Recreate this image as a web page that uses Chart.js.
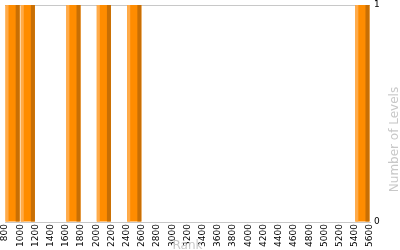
<!DOCTYPE html>
<html>
<head>
<meta charset="utf-8">
<script src="https://cdn.jsdelivr.net/npm/chart.js@4.4.1/dist/chart.umd.min.js"></script>
<style>
  html, body { margin: 0; padding: 0; background: #fff; }
  #wrap { width: 400px; height: 250px; }
</style>
</head>
<body>
<div id="wrap"><canvas id="chart" width="400" height="250"></canvas></div>
<script>
// rank bins (bin centre) and how many levels fall in each
const rankBins = [900, 1100, 1300, 1500, 1700, 1900, 2100, 2300, 2500, 2700, 2900, 3100,
  3300, 3500, 3700, 3900, 4100, 4300, 4500, 4700, 4900, 5100, 5300, 5500];
const levelCounts = [1, 1, 0, 0, 1, 0, 1, 0, 1, 0, 0, 0,
  0, 0, 0, 0, 0, 0, 0, 0, 0, 0, 0, 1];
const rankMin = 800;
const rankMax = 5600;
const rankStep = 200;
const countTicks = [0, 1];

const xTitle = "Rank";
const yTitle = "Number of Levels";

const FONT = "'DejaVu Sans', Verdana, sans-serif";

// light left edge + dark right edge on each bar
const barShade = {
  id: "barShade",
  afterDatasetsDraw(chart) {
    const ctx = chart.ctx;
    const meta = chart.getDatasetMeta(0);
    ctx.save();
    meta.data.forEach((bar, i) => {
      if (!levelCounts[i]) return;
      const { x, y, base, width } = bar.getProps(["x", "y", "base", "width"], true);
      const left = x - width / 2;
      ctx.fillStyle = "#ffab4a";
      ctx.fillRect(left, y, 3, base - y);
      ctx.fillStyle = "#c86f05";
      ctx.fillRect(left + width - 4, y, 4, base - y);
    });
    ctx.restore();
  },
};

// axis titles, light grey like the original
const axisTitles = {
  id: "axisTitles",
  afterDraw(chart) {
    const ctx = chart.ctx;
    const a = chart.chartArea;
    ctx.save();
    ctx.fillStyle = "#c8c8c8";
    ctx.font = `12px ${FONT}`;
    ctx.textAlign = "center";
    ctx.textBaseline = "alphabetic";
    ctx.fillText(xTitle, (a.left + a.right) / 2, chart.height - 1);
    ctx.translate(chart.width - 5, (a.top + a.bottom) / 2 + 26);
    ctx.rotate(-Math.PI / 2);
    ctx.textBaseline = "middle";
    ctx.fillText(yTitle, 0, 0);
    ctx.restore();
  },
};

new Chart(document.getElementById("chart"), {
  type: "bar",
  data: {
    labels: rankBins,
    datasets: [{
      data: rankBins.map((r, i) => ({ x: r, y: levelCounts[i] })),
      backgroundColor: "#ff8c00",
      borderWidth: 0,
      barPercentage: 0.93,
      categoryPercentage: 1,
    }],
  },
  options: {
    responsive: false,
    animation: false,
    layout: { padding: { left: 5, top: 5, right: 0, bottom: 0 } },
    plugins: { legend: { display: false }, tooltip: { enabled: false } },
    scales: {
      x: {
        type: "linear",
        min: rankMin,
        max: rankMax,
        offset: false,
        afterFit: (s) => { s.height = 28; s.paddingLeft = 0; s.paddingRight = 0; },
        border: { display: true, color: "#c8c8c8" },
        grid: {
          drawTicks: false,
          color: (c) => (c.index === 0 ? "#c8c8c8" : "rgba(0,0,0,0)"),
        },
        ticks: {
          stepSize: rankStep,
          autoSkip: false,
          minRotation: 90,
          maxRotation: 90,
          padding: 2,
          color: "#000",
          font: { family: FONT, size: 9 },
          callback: (v) => String(v),
        },
      },
      y: {
        position: "right",
        min: countTicks[0],
        max: countTicks[countTicks.length - 1],
        afterFit: (s) => { s.width = 30; s.paddingTop = 0; s.paddingBottom = 0; },
        border: { display: false },
        grid: { drawTicks: false, color: "#c8c8c8" },
        ticks: {
          stepSize: 1,
          padding: 4,
          color: "#000",
          font: { family: FONT, size: 9 },
        },
      },
    },
  },
  plugins: [barShade, axisTitles],
});
</script>
</body>
</html>
